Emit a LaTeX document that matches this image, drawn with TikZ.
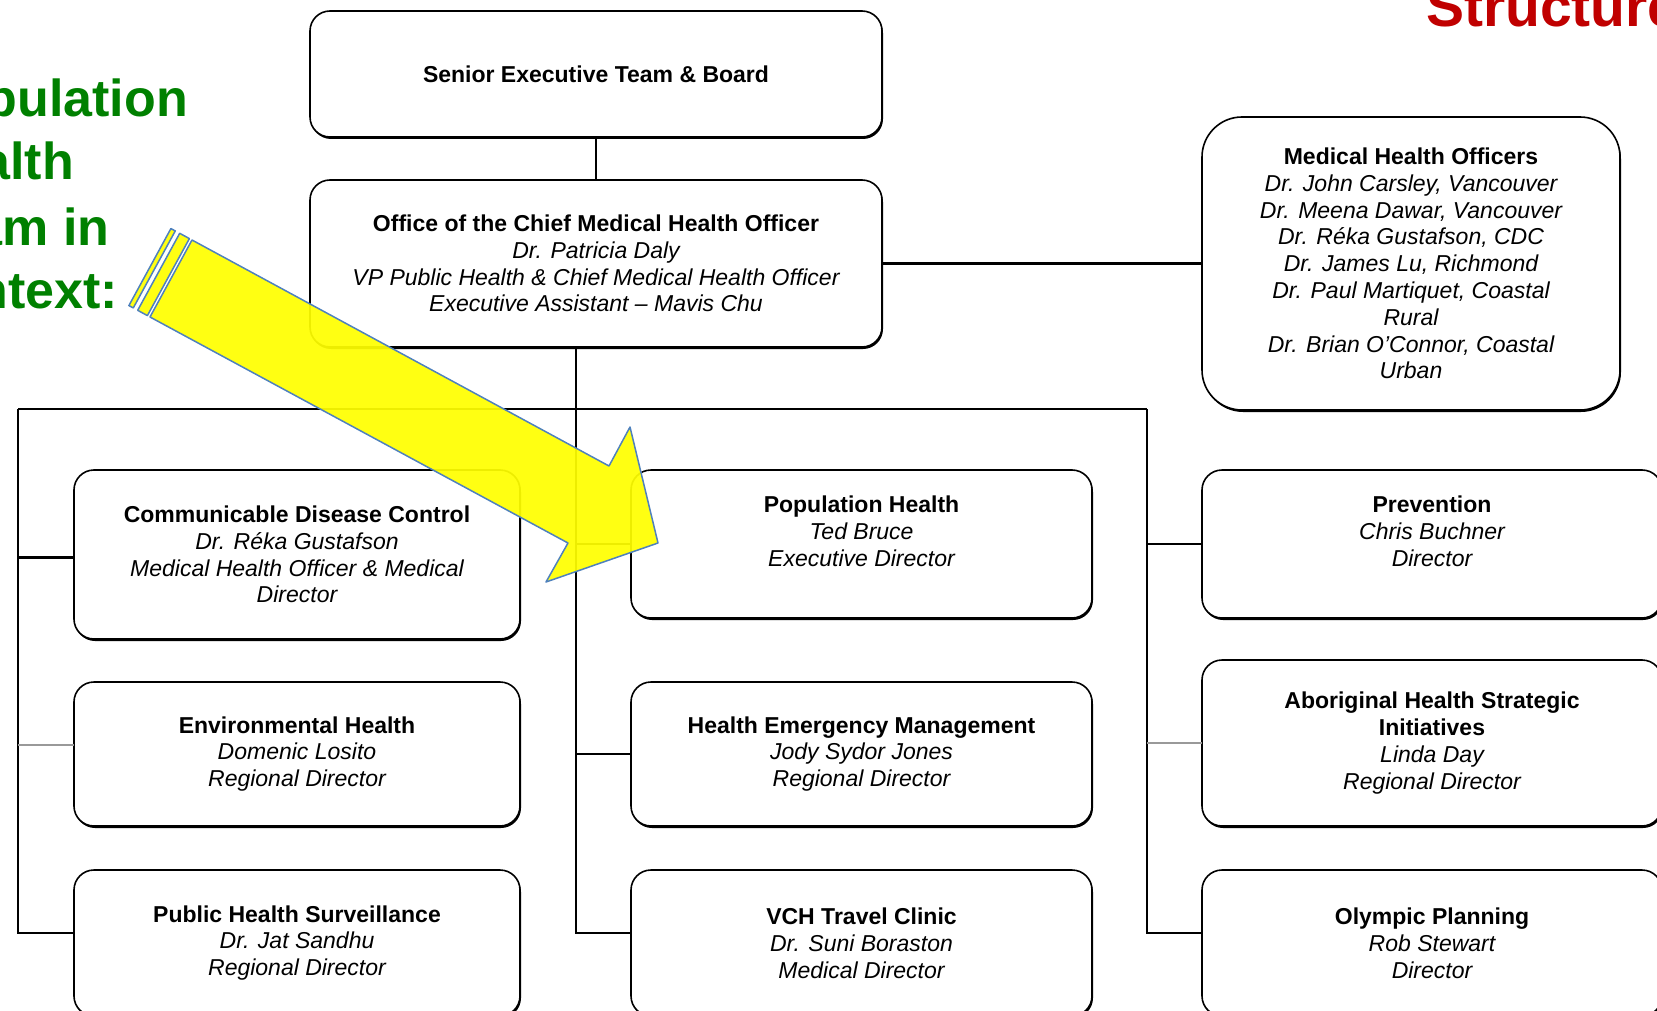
\documentclass[tikz,border=0pt]{standalone}
\usepackage{fontspec}
\setmainfont{Liberation Sans}
\usetikzlibrary{positioning,shadows}
\definecolor{ctxgreen}{HTML}{008000}
\definecolor{titlered}{HTML}{C00000}
\definecolor{hlfill}{HTML}{FFFF00}
\definecolor{hledge}{HTML}{4F81BD}
\newcommand{\unithead}[1]{\textup{\textbf{#1}}}

\begin{document}
\begin{tikzpicture}[x=1pt,y=-1pt,
      unit/.style={draw,rounded corners=20pt,fill=white,line width=1.6pt,align=center,
        inner sep=4pt,outer sep=0pt,font=\fontsize{23}{26.8}\selectfont\itshape,
        drop shadow={shadow xshift=1pt,shadow yshift=-2pt,opacity=1,fill=black}},
      link/.style={line width=2.5pt},
      faint/.style={line width=2.5pt,black!40},
      hl/.style={fill=hlfill,fill opacity=.93,draw=hledge,line width=1.5pt,line join=round},
      ctx/.style={anchor=base east,inner sep=0pt,text=ctxgreen,font=\fontsize{52}{62}\selectfont\bfseries}]
    \useasboundingbox (0,0) rectangle (1657,1011);
    \clip (0,0) rectangle (1657,1011);
    % top of the chart
    \node[unit,minimum width=572pt,minimum height=126pt] (seb) at (596,74) {\unithead{Senior Executive Team \& Board}};
    \node[unit,minimum width=572pt,minimum height=167pt,below=43pt of seb] (cmho)
      {\unithead{Office of the Chief Medical Health Officer}\\Dr. Patricia Daly\\VP Public Health \& Chief Medical Health Officer\\Executive Assistant -- Mavis Chu};
    \node[unit,rounded corners=40pt,minimum width=418pt,minimum height=293pt,right=320pt of cmho] (mho)
      {\unithead{Medical Health Officers}\\Dr. John Carsley, Vancouver\\Dr. Meena Dawar, Vancouver\\Dr. Réka Gustafson, CDC\\Dr. James Lu, Richmond\\Dr. Paul Martiquet, Coastal\\Rural\\Dr. Brian O’Connor, Coastal\\Urban};
    % left column
    \node[unit,minimum width=446pt,minimum height=169pt] (cdc) at (297,554.5)
      {\unithead{Communicable Disease Control}\\Dr. Réka Gustafson\\Medical Health Officer \& Medical\\Director};
    \node[unit,minimum width=446pt,minimum height=144pt,below=43pt of cdc] (env)
      {\unithead{Environmental Health}\\Domenic Losito\\Regional Director};
    \node[unit,minimum width=446pt,minimum height=146pt,below=44pt of env] (phs)
      {\unithead{Public Health Surveillance}\\Dr. Jat Sandhu\\Regional Director};
    % middle column
    \node[unit,minimum width=461pt,minimum height=148pt,text depth=26pt,right=111pt of cdc.north east,anchor=north west] (pop)
      {\unithead{Population Health}\\Ted Bruce\\Executive Director};
    \node[unit,minimum width=461pt,minimum height=144pt,below=64pt of pop] (hem)
      {\unithead{Health Emergency Management}\\Jody Sydor Jones\\Regional Director};
    \node[unit,minimum width=461pt,minimum height=146pt,below=44pt of hem] (vch)
      {\unithead{VCH Travel Clinic}\\Dr. Suni Boraston\\Medical Director};
    % right column
    \node[unit,minimum width=460pt,minimum height=148pt,text depth=26pt,right=110pt of pop] (prev)
      {\unithead{Prevention}\\Chris Buchner\\Director};
    \node[unit,minimum width=460pt,minimum height=166pt,below=42pt of prev] (abor)
      {\unithead{Aboriginal Health Strategic}\\\unithead{Initiatives}\\Linda Day\\Regional Director};
    \node[unit,minimum width=460pt,minimum height=146pt,below=44pt of abor] (olym)
      {\unithead{Olympic Planning}\\Rob Stewart\\Director};
    % reporting lines
    \coordinate (trunk) at ([xshift=-20pt]cmho.south);
    \coordinate (busL) at (18,409);
    \coordinate (busR) at (1147,409);
    \draw[link] (seb) -- (cmho);
    \draw[link] (cmho.east) -- (mho.west);
    \draw[link] (busL) -- (busR);
    \draw[link] (busL) |- ([yshift=10pt]phs.west);
    \draw[link] (trunk) |- ([yshift=10pt]vch.west);
    \draw[link] (busR) |- ([yshift=10pt]olym.west);
    \draw[link] ([yshift=-3pt]cdc.west -| busL) -- ([yshift=-3pt]cdc.west);
    \draw[faint] ([yshift=9pt]env.west -| busL) -- ([yshift=9pt]env.west);
    \draw[link] (trunk |- pop.west) -- (pop.west);
    \draw[link] (trunk |- hem.west) -- (hem.west);
    \draw[link] (busR |- prev.west) -- (prev.west);
    \draw[faint] (busR |- abor.west) -- (abor.west);
    % highlight arrow
    \draw[hl] (192,240) -- (609,466) -- (630,427) -- (658,543) -- (546,582) -- (568,543) -- (150,317) -- cycle;
    \draw[hl] (170.9,228.6) -- (175.3,230.9) -- (133.3,307.9) -- (128.9,305.6) -- cycle;
    \draw[hl] (179.7,233.3) -- (189.4,238.6) -- (147.4,315.6) -- (137.7,310.3) -- cycle;
    % slide text
    \node[ctx] (ctx1) at (188,117) {pulation};
    \node[ctx] (ctx2) at (74,180) {alth};
    \node[ctx] (ctx3) at (110,245) {am in};
    \node[ctx] (ctx4) at (118,308) {ntext:};
    \node[anchor=base west,inner sep=0pt,text=titlered,font=\fontsize{57}{68}\selectfont\bfseries] (ttl) at (1426,27) {Structure};
  \end{tikzpicture}
\end{document}
